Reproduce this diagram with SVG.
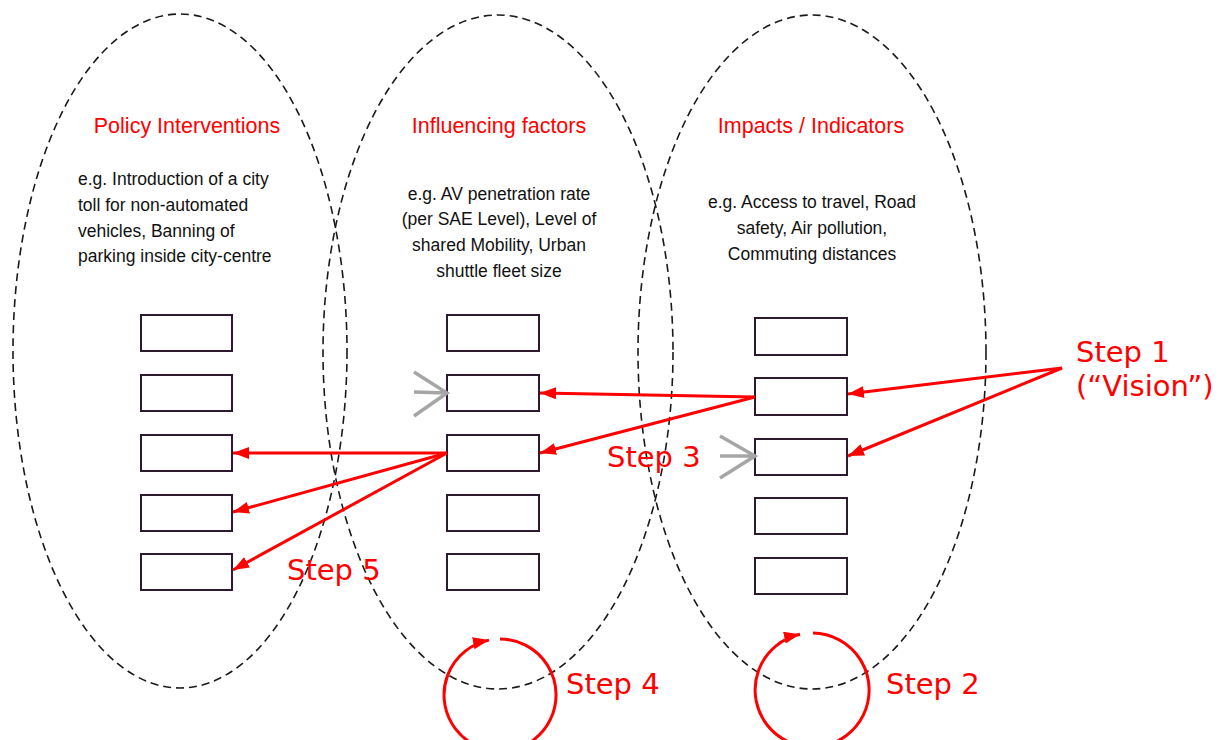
<svg xmlns="http://www.w3.org/2000/svg" width="1226" height="740" viewBox="0 0 1226 740">
<style>
.ell{fill:none;stroke:#1a1a1a;stroke-width:1.6;stroke-dasharray:8 5}
.box{fill:#fff;stroke:#2e1a2e;stroke-width:2}
.arr{fill:none;stroke:#ff0000;stroke-width:3;marker-end:url(#ah)}
.chev{fill:none;stroke:#a6a6a6;stroke-width:3.5;stroke-linecap:butt}
.head{font-family:"Liberation Sans",Arial,sans-serif;font-size:21.5px;fill:#ff0000;text-anchor:middle}
.body{font-family:"Liberation Sans Narrow","Liberation Sans",Arial,sans-serif;font-size:17.5px;fill:#111}
.step{font-family:"DejaVu Sans",Verdana,sans-serif;font-size:29px;fill:#ff0000}
</style>
<defs>
<marker id="ah" markerUnits="userSpaceOnUse" markerWidth="18" markerHeight="14" refX="16" refY="6" orient="auto">
<path d="M0,0 L16,6 L0,12 Z" fill="#ff0000"/>
</marker>
</defs>
<rect width="1226" height="740" fill="#fff"/>

<g id="ellipse-policy"><ellipse class="ell" cx="180" cy="351" rx="167" ry="337"/></g>
<g id="ellipse-factors"><ellipse class="ell" cx="498" cy="352" rx="175" ry="337"/></g>
<g id="ellipse-impacts"><ellipse class="ell" cx="812" cy="352" rx="174" ry="337"/></g>

<g id="policy-text">
<text class="head" x="187" y="133">Policy Interventions</text>
<text class="body" x="78" y="185">e.g. Introduction of a city</text>
<text class="body" x="78" y="211">toll for non-automated</text>
<text class="body" x="78" y="237">vehicles, Banning of</text>
<text class="body" x="78" y="262">parking inside city-centre</text>
</g>
<g id="factors-text">
<text class="head" x="499" y="133">Influencing factors</text>
<text class="body" x="499" y="200" text-anchor="middle">e.g. AV penetration rate</text>
<text class="body" x="499" y="225" text-anchor="middle">(per SAE Level), Level of</text>
<text class="body" x="499" y="251" text-anchor="middle">shared Mobility, Urban</text>
<text class="body" x="499" y="277" text-anchor="middle">shuttle fleet size</text>
</g>
<g id="impacts-text">
<text class="head" x="811" y="133">Impacts / Indicators</text>
<text class="body" x="812" y="208" text-anchor="middle">e.g. Access to travel, Road</text>
<text class="body" x="812" y="234" text-anchor="middle">safety, Air pollution,</text>
<text class="body" x="812" y="260" text-anchor="middle">Commuting distances</text>
</g>

<g id="policy-boxes">
<rect class="box" x="141" y="315" width="91" height="36"/>
<rect class="box" x="141" y="375" width="91" height="36"/>
<rect class="box" x="141" y="435" width="91" height="36"/>
<rect class="box" x="141" y="495" width="91" height="36"/>
<rect class="box" x="141" y="554" width="91" height="36"/>
</g>
<g id="factor-boxes">
<rect class="box" x="447" y="315" width="92" height="36"/>
<rect class="box" x="447" y="375" width="92" height="36"/>
<rect class="box" x="447" y="435" width="92" height="36"/>
<rect class="box" x="447" y="495" width="92" height="36"/>
<rect class="box" x="447" y="554" width="92" height="36"/>
</g>
<g id="impact-boxes">
<rect class="box" x="755" y="318" width="92" height="37"/>
<rect class="box" x="755" y="378" width="92" height="37"/>
<rect class="box" x="755" y="439" width="92" height="36"/>
<rect class="box" x="755" y="498" width="92" height="36"/>
<rect class="box" x="755" y="558" width="92" height="36"/>
</g>

<g id="chevrons">
<path class="chev" d="M414,372 L447,393 L414,416 M414,392 L447,393"/>
<path class="chev" d="M720,436 L755,456 L720,478 M720,456 L755,456"/>
</g>

<g id="connectors">
<line class="arr" x1="1062" y1="368" x2="848" y2="394"/>
<line class="arr" x1="1062" y1="368" x2="848" y2="456"/>
<line class="arr" x1="755" y1="397" x2="540" y2="393"/>
<line class="arr" x1="755" y1="397" x2="540" y2="453"/>
<line class="arr" x1="447" y1="453" x2="233" y2="453"/>
<line class="arr" x1="447" y1="453" x2="233" y2="512"/>
<line class="arr" x1="447" y1="453" x2="233" y2="570"/>
<path class="arr" d="M500,639 A56,56 0 1 1 489,640.1"/>
<path class="arr" d="M813,633 A57,57 0 1 1 800,634.3"/>
</g>

<g id="step-labels">
<text class="step" x="1076" y="362">Step 1</text>
<text class="step" x="1076" y="396">(“Vision”)</text>
<text class="step" x="607" y="467">Step 3</text>
<text class="step" x="287" y="580">Step 5</text>
<text class="step" x="566" y="694">Step 4</text>
<text class="step" x="886" y="694">Step 2</text>
</g>
</svg>
